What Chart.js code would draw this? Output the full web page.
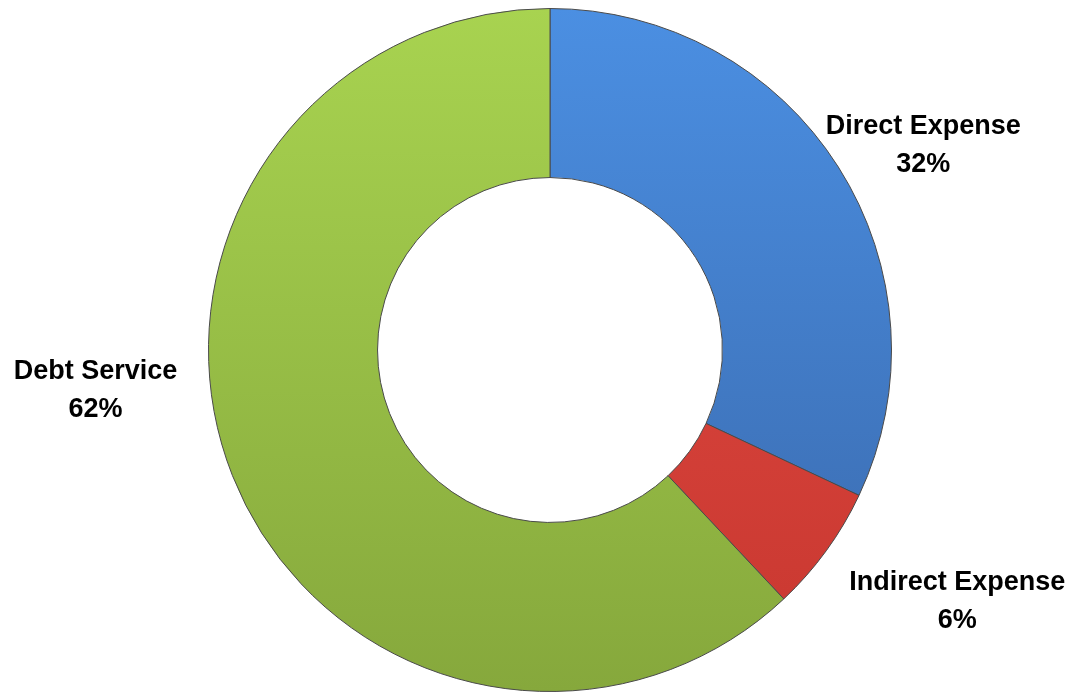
<!DOCTYPE html>
<html>
<head>
<meta charset="utf-8">
<script src="https://cdn.jsdelivr.net/npm/chart.js@4/dist/chart.umd.min.js"></script>
<style>
  html, body { margin: 0; padding: 0; background: #fff; }
  #wrap { width: 1074px; height: 697px; }
</style>
</head>
<body>
<div id="wrap"><canvas id="grafica"></canvas></div>
<script>
// datos
const categorias = ["Direct Expense", "Indirect Expense", "Debt Service"];
const porcentajes = [32, 6, 62];

// colores (claro arriba, oscuro abajo)
const coloresTop = ["#4b8fe2", "#e34c45", "#a8d350"];
const coloresBottom = ["#3968ab", "#c8372f", "#86a83c"];

// desplazamiento de cada etiqueta respecto al borde exterior del sector
const offsetsEtiqueta = [[85, -22], [131, 50], [-137, -86]];

function gradiente(ctx, i) {
  const area = ctx.chart.chartArea;
  if (!area) return coloresTop[i];
  const g = ctx.chart.ctx.createLinearGradient(0, area.top, 0, area.bottom);
  g.addColorStop(0, coloresTop[i]);
  g.addColorStop(1, coloresBottom[i]);
  return g;
}

// etiquetas fuera del anillo
const etiquetasPlugin = {
  id: "etiquetas",
  afterDatasetsDraw(chart) {
    const c = chart.ctx;
    const meta = chart.getDatasetMeta(0);
    c.save();
    c.fillStyle = "#000";
    c.textAlign = "center";
    c.textBaseline = "middle";
    c.font = "bold 27px 'Liberation Sans', Arial, sans-serif";
    meta.data.forEach((arc, i) => {
      const p = arc.getProps(["x", "y", "startAngle", "endAngle", "outerRadius"], true);
      const mid = (p.startAngle + p.endAngle) / 2;
      const x = p.x + Math.cos(mid) * p.outerRadius + offsetsEtiqueta[i][0];
      const y = p.y + Math.sin(mid) * p.outerRadius + offsetsEtiqueta[i][1];
      c.fillText(categorias[i], x, y - 18);
      c.fillText(porcentajes[i] + "%", x, y + 20);
    });
    c.restore();
  }
};

new Chart(document.getElementById("grafica"), {
  type: "doughnut",
  data: {
    labels: categorias,
    datasets: [{
      data: porcentajes,
      backgroundColor: (ctx) => gradiente(ctx, ctx.dataIndex),
      borderColor: "#4a4a4a",
      borderWidth: 1
    }]
  },
  options: {
    responsive: true,
    maintainAspectRatio: false,
    animation: false,
    cutout: "50.5%",
    layout: { padding: { left: 26, right: 0, top: 8, bottom: 5 } },
    plugins: {
      legend: { display: false },
      tooltip: { enabled: false }
    }
  },
  plugins: [etiquetasPlugin]
});
</script>
</body>
</html>
